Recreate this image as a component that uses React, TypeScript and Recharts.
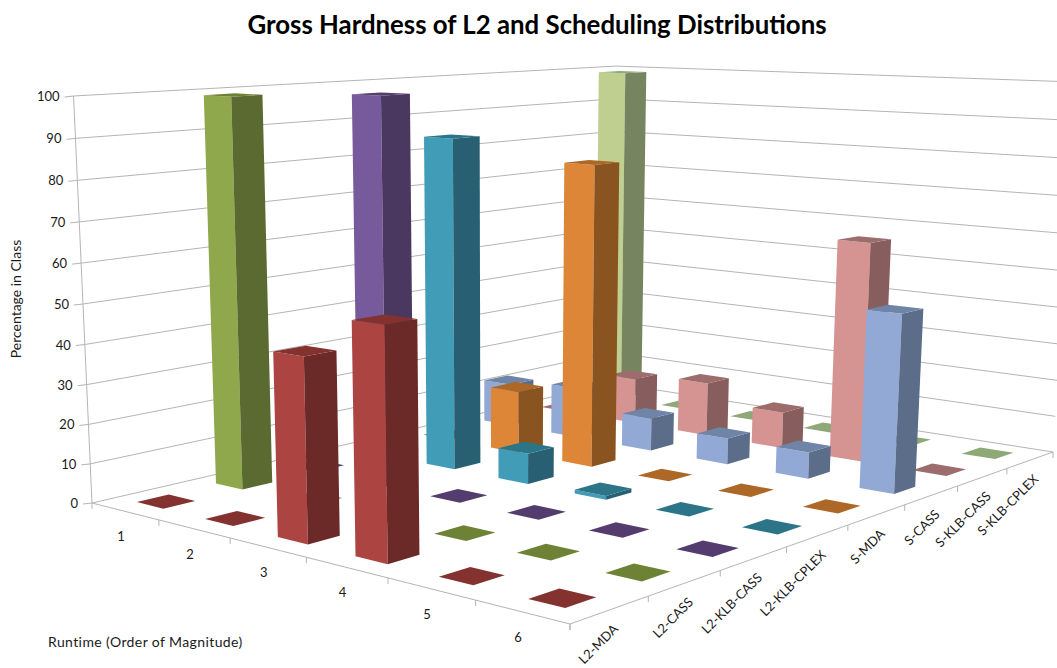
import React from 'react';
import { ScatterChart, Scatter, XAxis, YAxis, ReferenceLine } from 'recharts';

// Share of instances per runtime bucket, one array per solver configuration.
const runtimes = ['1', '2', '3', '4', '5', '6'];
const configs = ['L2-MDA', 'L2-CASS', 'L2-KLB-CASS', 'L2-KLB-CPLEX', 'S-MDA', 'S-CASS', 'S-KLB-CASS', 'S-KLB-CPLEX'];
const l2Mda = [0, 0, 44, 54, 0, 0];
const l2Cass = [99, 0, 0, 0, 0, 0];
const l2KlbCass = [0, 99, 0, 0, 0, 0];
const l2KlbCplex = [0, 87, 8, 1, 0, 0];
const sMda = [0, 17, 80, 0, 0, 0];
const sCass = [12, 14, 9, 7, 7, 46];
const sKlbCass = [0, 13, 15, 10, 59, 0];
const sKlbCplex = [99, 0, 0, 0, 0, 0];
const seriesValues = [l2Mda, l2Cass, l2KlbCass, l2KlbCplex, sMda, sCass, sKlbCass, sKlbCplex];
const valueTicks = [0, 10, 20, 30, 40, 50, 60, 70, 80, 90, 100];

// face, side and top shades for each configuration
const palette = [
  ['#ac4442', '#6b2927', '#833230'],
  ['#8ea84b', '#5a6a30', '#6e8235'],
  ['#775a9b', '#4a3861', '#553c6e'],
  ['#409cb7', '#285f72', '#2c7588'],
  ['#dd8638', '#8a5421', '#ad6827'],
  ['#93a9d5', '#5b6d88', '#6f85a8'],
  ['#d59392', '#875e5d', '#9c6d6c'],
  ['#bfcf8f', '#76845f', '#8ea878'],
];

const WIDTH = 1057;
const HEIGHT = 668;
const BOX = 0.395;
const GRID = '#b4b4b4';
const FONT = 'Lato, "Open Sans", sans-serif';

// Perspective camera: a floor homography plus a vertical vanishing point.
const floor = { A: [92, 503], B: [612, 383], R: [1053, 452], F: [570, 624] };
const vanish = [500, 9500];
const leftTopY = 96;

const camera = (() => {
  const [x0, y0] = floor.A;
  const [x1, y1] = floor.B;
  const [x2, y2] = floor.R;
  const [x3, y3] = floor.F;
  const dx1 = x1 - x2, dx2 = x3 - x2, sx = x0 - x1 + x2 - x3;
  const dy1 = y1 - y2, dy2 = y3 - y2, sy = y0 - y1 + y2 - y3;
  const den = dx1 * dy2 - dx2 * dy1;
  const g = (sx * dy2 - dx2 * sy) / den;
  const h = (dx1 * sy - sx * dy1) / den;
  return {
    a: x1 - x0 + g * x1, b: x3 - x0 + h * x3, c: x0,
    d: y1 - y0 + g * y1, e: y3 - y0 + h * y3, f: y0,
    g, h,
    k: (y0 - leftTopY) / (leftTopY - vanish[1]),
  };
})();

// u runs across the configurations, v across the runtimes, value is 0-100
function project(u: number, v: number, value: number) {
  const { a, b, c, d, e, f, g, h, k } = camera;
  const t = (value / 100) * k;
  const w = g * u + h * v + 1 + t;
  return {
    x: (a * u + b * v + c + t * vanish[0]) / w,
    y: (d * u + e * v + f + t * vanish[1]) / w,
  };
}

const nU = configs.length;
const nV = runtimes.length;

// Far boxes first so nearer ones cover them.
const boxes = runtimes.flatMap((_, r) =>
  configs.map((_, s) => s).reverse().map((s) => {
    const base = project((s + 0.5) / nU, (r + 0.5) / nV, 0);
    return { ...base, s, r, value: seriesValues[s][r] };
  }),
);

function BoxShape(props: any) {
  const { cx, cy, payload } = props;
  const { s, r, value } = payload;
  const origin = project((s + 0.5) / nU, (r + 0.5) / nV, 0);
  const half = BOX / 2;
  const pt = (du: number, dv: number, val: number) => {
    const p = project((s + 0.5 + du * half) / nU, (r + 0.5 + dv * half) / nV, val);
    return `${cx + p.x - origin.x},${cy + p.y - origin.y}`;
  };
  const [face, side, top] = palette[s];
  return (
    <g>
      {value > 0 && (
        <>
          <polygon points={[pt(-1, -1, 0), pt(-1, 1, 0), pt(-1, 1, value), pt(-1, -1, value)].join(' ')} fill={face} />
          <polygon points={[pt(-1, 1, 0), pt(1, 1, 0), pt(1, 1, value), pt(-1, 1, value)].join(' ')} fill={side} />
        </>
      )}
      <polygon points={[pt(-1, -1, value), pt(-1, 1, value), pt(1, 1, value), pt(1, -1, value)].join(' ')} fill={top} />
    </g>
  );
}

const seg = (p: { x: number; y: number }, q: { x: number; y: number }) => [
  { x: p.x, y: p.y },
  { x: q.x, y: q.y },
];

const wallLines = valueTicks.flatMap((t) => [
  seg(project(0, 0, t), project(1, 0, t)),
  seg(project(1, 0, t), project(1, 1, t)),
]);

const edgeLines = [
  seg(project(0, 0, 0), project(0, 0, 100)),
  seg(project(0, 0, 0), project(0, 1, 0)),
  seg(project(0, 1, 0), project(1, 1, 0)),
  ...valueTicks.map((t) => {
    const p = project(0, 0, t);
    return seg({ x: p.x - 9, y: p.y + 1 }, p);
  }),
  ...Array.from({ length: nV + 1 }, (_, i) => {
    const p = project(0, i / nV, 0);
    return seg(p, { x: p.x, y: p.y + 6 });
  }),
  ...Array.from({ length: nU + 1 }, (_, i) => {
    const p = project(i / nU, 1, 0);
    return seg(p, { x: p.x, y: p.y + 6 });
  }),
];

const valueLabels = valueTicks.map((t) => {
  const p = project(0, 0, t);
  return { x: p.x - 14, y: p.y + 5, text: String(t), anchor: 'end', rotate: 0 };
});
const runtimeLabels = runtimes.map((text, i) => {
  const p = project(0, (i + 0.5) / nV, 0);
  return { x: p.x - 4, y: p.y + 30, text, anchor: 'middle', rotate: 0 };
});
const configLabels = configs.map((text, i) => {
  const p = project((i + 0.5) / nU, 1, 0);
  return { x: p.x + 9, y: p.y + 20, text, anchor: 'end', rotate: -45 };
});

function LabelShape(props: any) {
  const { cx, cy, payload } = props;
  return (
    <text
      x={cx}
      y={cy}
      textAnchor={payload.anchor}
      fontFamily={FONT}
      fontSize={13}
      fill="#1a1a1a"
      transform={payload.rotate ? `rotate(${payload.rotate} ${cx} ${cy})` : undefined}
    >
      {payload.text}
    </text>
  );
}

export default function App() {
  return (
    <div style={{ position: 'absolute', left: 0, top: 0, background: '#fff' }}>
      <ScatterChart width={WIDTH} height={HEIGHT} margin={{ top: 0, right: 0, bottom: 0, left: 0 }}>
        <XAxis type="number" dataKey="x" domain={[0, WIDTH]} hide allowDataOverflow />
        <YAxis type="number" dataKey="y" domain={[0, HEIGHT]} reversed hide allowDataOverflow />
        {[...wallLines, ...edgeLines].map((segment, i) => (
          <ReferenceLine key={i} segment={segment} stroke={GRID} strokeWidth={1} ifOverflow="visible" />
        ))}
        <Scatter data={boxes} shape={BoxShape} isAnimationActive={false} />
        <Scatter data={[...valueLabels, ...runtimeLabels, ...configLabels]} shape={LabelShape} isAnimationActive={false} />
        <text x={537} y={34} textAnchor="middle" fontFamily={FONT} fontWeight={700} fontSize={25.8} fill="#000">
          Gross Hardness of L2 and Scheduling Distributions
        </text>
        <text x={48} y={647} fontFamily={FONT} fontSize={14} letterSpacing={0.4} fill="#1a1a1a">
          Runtime (Order of Magnitude)
        </text>
        <text x={21} y={299} textAnchor="middle" fontFamily={FONT} fontSize={14} fill="#1a1a1a" transform="rotate(-90 21 299)">
          Percentage in Class
        </text>
      </ScatterChart>
    </div>
  );
}
